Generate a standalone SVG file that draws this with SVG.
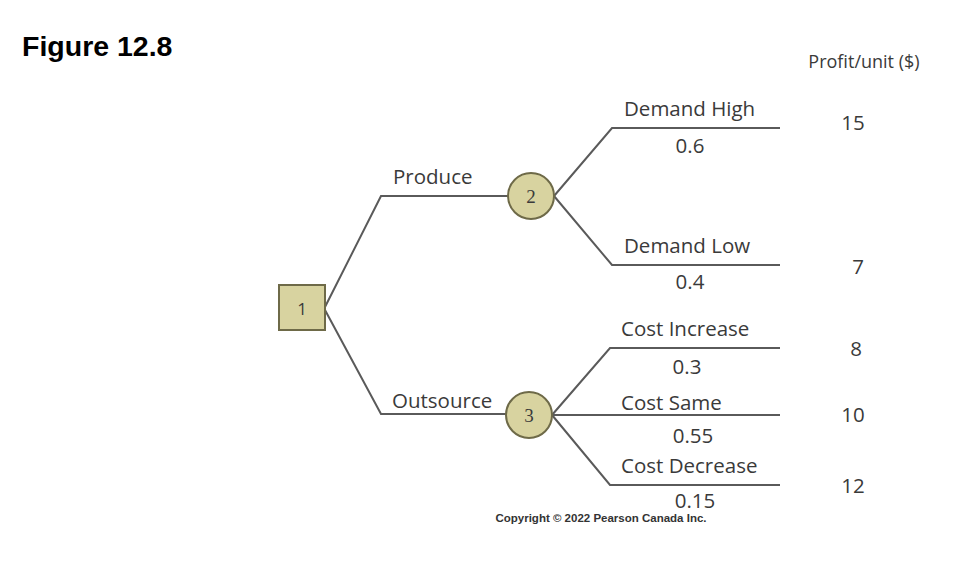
<svg xmlns="http://www.w3.org/2000/svg" width="960" height="585" viewBox="0 0 960 585">
<style>
.ln{fill:none;stroke:#5a5a5a;stroke-width:2}
.nd{fill:#d8d3a0;stroke:#6e6a48;stroke-width:2}
.t{font-family:"Open Sans","DejaVu Sans",sans-serif;font-size:20.5px;fill:#3a3a3a}
.n{font-family:"Liberation Serif",serif;font-size:19px;fill:#3a3a3a;text-anchor:middle}
.c{text-anchor:middle}
</style>
<rect width="960" height="585" fill="#ffffff"/>
<text x="22" y="56" font-family="Liberation Sans, Arial, sans-serif" font-weight="bold" font-size="28.5" fill="#000">Figure 12.8</text>
<text x="864" y="68" class="t c" style="font-size:18px">Profit/unit ($)</text>
<g id="connectors">
<polyline class="ln" points="325,307 381,196 508,196"/>
<polyline class="ln" points="325,310 381,414 506,414"/>
<polyline class="ln" points="554,196 612,128 780,128"/>
<polyline class="ln" points="554,196 612,265 780,265"/>
<polyline class="ln" points="552,415 610,348 780,348"/>
<polyline class="ln" points="552,415 780,415"/>
<polyline class="ln" points="552,415 610,485 780,485"/>
</g>
<g id="node1">
<rect class="nd" x="279" y="285" width="46" height="45"/>
<text x="302" y="315" class="t c" style="font-size:17px">1</text>
</g>
<g id="node2">
<circle class="nd" cx="531" cy="196" r="23"/>
<text x="531" y="203" class="n">2</text>
</g>
<g id="node3">
<circle class="nd" cx="529" cy="415" r="23"/>
<text x="529" y="422" class="n">3</text>
</g>
<g id="labels">
<text x="393" y="184" class="t">Produce</text>
<text x="392" y="408" class="t">Outsource</text>
<text x="624" y="116" class="t">Demand High</text>
<text x="690" y="153" class="t c">0.6</text>
<text x="624" y="253" class="t">Demand Low</text>
<text x="690" y="289" class="t c">0.4</text>
<text x="621" y="336" class="t">Cost Increase</text>
<text x="687" y="374" class="t c">0.3</text>
<text x="621" y="410" class="t">Cost Same</text>
<text x="693" y="443" class="t c">0.55</text>
<text x="621" y="473" class="t">Cost Decrease</text>
<text x="695" y="508" class="t c">0.15</text>
<text x="853" y="130" class="t c">15</text>
<text x="858" y="274" class="t c">7</text>
<text x="856" y="356" class="t c">8</text>
<text x="853" y="422" class="t c">10</text>
<text x="853" y="493" class="t c">12</text>
</g>
<text x="601" y="522" font-family="Liberation Sans, Arial, sans-serif" font-weight="bold" font-size="11.5" fill="#333" text-anchor="middle">Copyright © 2022 Pearson Canada Inc.</text>
</svg>
